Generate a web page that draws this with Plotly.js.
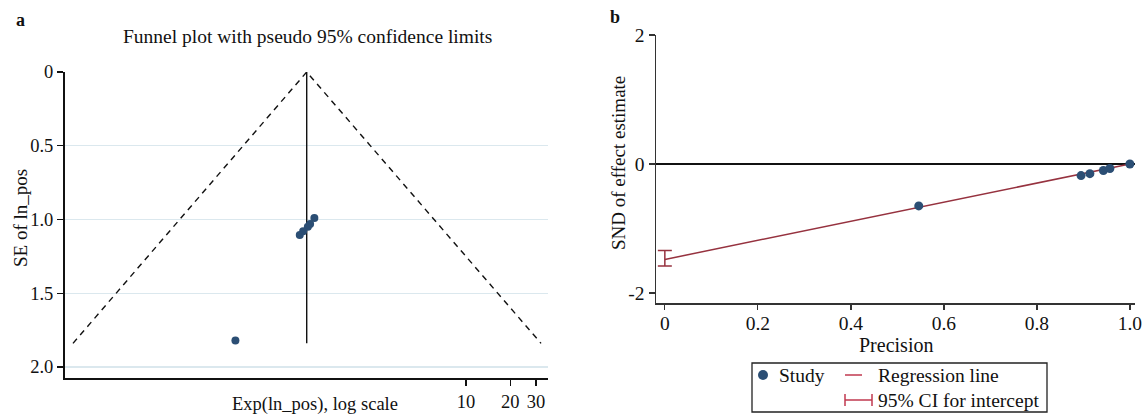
<!DOCTYPE html>
<html>
<head>
<meta charset="utf-8">
<script src="https://cdn.plot.ly/plotly-3.0.1.min.js"></script>
<style>
  html, body { margin: 0; padding: 0; background: #fff; }
  #chart { width: 1146px; height: 415px; }
</style>
</head>
<body>
<div id="chart"></div>
<script>
// ---------- Panel a: funnel plot ----------
const seA = [0.99, 1.03, 1.05, 1.08, 1.105, 1.82];
const ratioA = [0.93, 0.87, 0.84, 0.78, 0.74, 0.27];
const pooledRatio = 0.825;
const funnelSEmax = 1.84;
const funnelLow = 0.0212;
const funnelHigh = 32.4;
const xTicksA = [10, 20, 30];
const yTicksA = [0, 0.5, 1.0, 1.5, 2.0];
const yTickTextA = ['0', '0.5', '1.0', '1.5', '2.0'];

// ---------- Panel b: Egger's regression ----------
const precision = [0.546, 0.895, 0.914, 0.943, 0.957, 1.0];
const sndEffect = [-0.65, -0.18, -0.15, -0.10, -0.07, 0.0];
const regPrecision = [0, 1.0];
const regSND = [-1.48, 0.0];
const ciIntercept = [-1.58, -1.34];
const xTicksB = [0, 0.2, 0.4, 0.6, 0.8, 1.0];
const xTickTextB = ['0', '0.2', '0.4', '0.6', '0.8', '1.0'];
const yTicksB = [-2, 0, 2];

const W = 1146, H = 415;
const px = v => v / W;
const py = v => 1 - v / H;
const FONT = '"Liberation Serif", "Times New Roman", serif';
const dotColor = '#2b4e74';
const regColor = '#96323f';
const legRed = '#c0384f';

const ciMid = (ciIntercept[0] + ciIntercept[1]) / 2;

const traces = [
  { x: [funnelLow, pooledRatio, funnelHigh], y: [funnelSEmax, 0, funnelSEmax],
    xaxis: 'x', yaxis: 'y', mode: 'lines',
    line: { color: '#111', width: 1.4, dash: '6px,5px' }, showlegend: false },
  { x: [pooledRatio, pooledRatio], y: [0, funnelSEmax],
    xaxis: 'x', yaxis: 'y', mode: 'lines',
    line: { color: '#111', width: 1.4 }, showlegend: false },
  { x: ratioA, y: seA, xaxis: 'x', yaxis: 'y', mode: 'markers',
    marker: { color: dotColor, size: 8 }, showlegend: false },

  { x: regPrecision, y: regSND, xaxis: 'x2', yaxis: 'y2', mode: 'lines',
    line: { color: regColor, width: 1.5 }, showlegend: false },
  { x: [0], y: [ciMid], xaxis: 'x2', yaxis: 'y2', mode: 'markers',
    marker: { size: 1, opacity: 0 },
    error_y: { type: 'data', symmetric: false,
      array: [ciIntercept[1] - ciMid], arrayminus: [ciMid - ciIntercept[0]],
      color: regColor, thickness: 1.5, width: 7 },
    showlegend: false },
  { x: precision, y: sndEffect, xaxis: 'x2', yaxis: 'y2', mode: 'markers',
    marker: { color: dotColor, size: 9 }, showlegend: false }
];

const tickFontA = { family: FONT, size: 18.5, color: '#111' };
const tickFontB = { family: FONT, size: 19.5, color: '#111' };

const layout = {
  width: W, height: H,
  margin: { l: 0, r: 0, t: 0, b: 0 },
  paper_bgcolor: '#fff', plot_bgcolor: '#fff',
  font: { family: FONT, color: '#111' },
  showlegend: false,
  xaxis: {
    domain: [px(65), px(548)], type: 'log', range: [-1.728, 1.558],
    tickvals: xTicksA, ticktext: xTicksA.map(String),
    ticks: 'outside', ticklen: 6, tickwidth: 1.3, tickcolor: '#111',
    showline: true, linecolor: '#111', linewidth: 2,
    showgrid: false, zeroline: false, tickfont: tickFontA, anchor: 'y'
  },
  yaxis: {
    domain: [py(378), py(72)], range: [2.075, 0],
    tickvals: yTicksA, ticktext: yTickTextA,
    ticks: 'outside', ticklen: 6, tickwidth: 1.3, tickcolor: '#111',
    showline: true, linecolor: '#111', linewidth: 2,
    showgrid: true, gridcolor: '#dbe8ee', gridwidth: 1.2,
    zeroline: false, tickfont: tickFontA, anchor: 'x'
  },
  xaxis2: {
    domain: [px(656), px(1135)], range: [-0.019, 1.011],
    tickvals: xTicksB, ticktext: xTickTextB,
    ticks: 'outside', ticklen: 5, tickwidth: 1.3, tickcolor: '#333',
    ticklabelstandoff: -3,
    showline: true, linecolor: '#333', linewidth: 1.5,
    showgrid: false, zeroline: false, tickfont: tickFontB, anchor: 'y2'
  },
  yaxis2: {
    domain: [py(303), py(35)], range: [-2.155, 2],
    tickvals: yTicksB, ticktext: yTicksB.map(String),
    ticks: 'outside', ticklen: 6, tickwidth: 1.3, tickcolor: '#333',
    showline: true, linecolor: '#333', linewidth: 1.5,
    showgrid: false, zeroline: true, zerolinecolor: '#111', zerolinewidth: 2,
    tickfont: tickFontB, anchor: 'x2'
  },
  annotations: [
    { text: '<b>a</b>', x: px(14), y: py(20), xref: 'paper', yref: 'paper',
      xanchor: 'left', yanchor: 'middle', showarrow: false, font: { size: 18, family: FONT } },
    { text: '<b>b</b>', x: px(608), y: py(17), xref: 'paper', yref: 'paper',
      xanchor: 'left', yanchor: 'middle', showarrow: false, font: { size: 18, family: FONT } },
    { text: 'Funnel plot with pseudo 95% confidence limits', x: px(307), y: py(37),
      xref: 'paper', yref: 'paper', xanchor: 'center', yanchor: 'middle',
      showarrow: false, font: { size: 19.5, family: FONT } },
    { text: 'SE of ln_pos', x: px(20), y: py(218), xref: 'paper', yref: 'paper',
      xanchor: 'center', yanchor: 'middle', textangle: -90,
      showarrow: false, font: { size: 19, family: FONT } },
    { text: 'Exp(ln_pos), log scale', x: px(315), y: py(404), xref: 'paper', yref: 'paper',
      xanchor: 'center', yanchor: 'middle', showarrow: false, font: { size: 18.5, family: FONT } },
    { text: 'SND of effect estimate', x: px(618), y: py(163), xref: 'paper', yref: 'paper',
      xanchor: 'center', yanchor: 'middle', textangle: -90,
      showarrow: false, font: { size: 19, family: FONT } },
    { text: 'Precision', x: px(896), y: py(345), xref: 'paper', yref: 'paper',
      xanchor: 'center', yanchor: 'middle', showarrow: false, font: { size: 20, family: FONT } },
    { text: 'Study', x: px(777), y: py(375), xref: 'paper', yref: 'paper',
      xanchor: 'left', yanchor: 'middle', showarrow: false, font: { size: 19.5, family: FONT } },
    { text: 'Regression line', x: px(876), y: py(375), xref: 'paper', yref: 'paper',
      xanchor: 'left', yanchor: 'middle', showarrow: false, font: { size: 19.5, family: FONT } },
    { text: '95% CI for intercept', x: px(876), y: py(400), xref: 'paper', yref: 'paper',
      xanchor: 'left', yanchor: 'middle', showarrow: false, font: { size: 19.5, family: FONT } }
  ],
  shapes: [
    { type: 'rect', xref: 'paper', yref: 'paper', x0: px(752), x1: px(1047), y0: py(412), y1: py(363),
      line: { color: '#222', width: 1.3 }, fillcolor: 'rgba(0,0,0,0)' },
    { type: 'circle', xref: 'paper', yref: 'paper', x0: px(758), x1: px(768), y0: py(380), y1: py(370),
      line: { color: dotColor, width: 0 }, fillcolor: dotColor },
    { type: 'line', xref: 'paper', yref: 'paper', x0: px(845), x1: px(862), y0: py(375), y1: py(375),
      line: { color: legRed, width: 1.5 } },
    { type: 'line', xref: 'paper', yref: 'paper', x0: px(845), x1: px(872), y0: py(400), y1: py(400),
      line: { color: legRed, width: 1.5 } },
    { type: 'line', xref: 'paper', yref: 'paper', x0: px(845), x1: px(845), y0: py(394), y1: py(406),
      line: { color: legRed, width: 1.5 } },
    { type: 'line', xref: 'paper', yref: 'paper', x0: px(872), x1: px(872), y0: py(394), y1: py(406),
      line: { color: legRed, width: 1.5 } }
  ]
};

Plotly.newPlot('chart', traces, layout, { staticPlot: true, displayModeBar: false });
</script>
</body>
</html>
